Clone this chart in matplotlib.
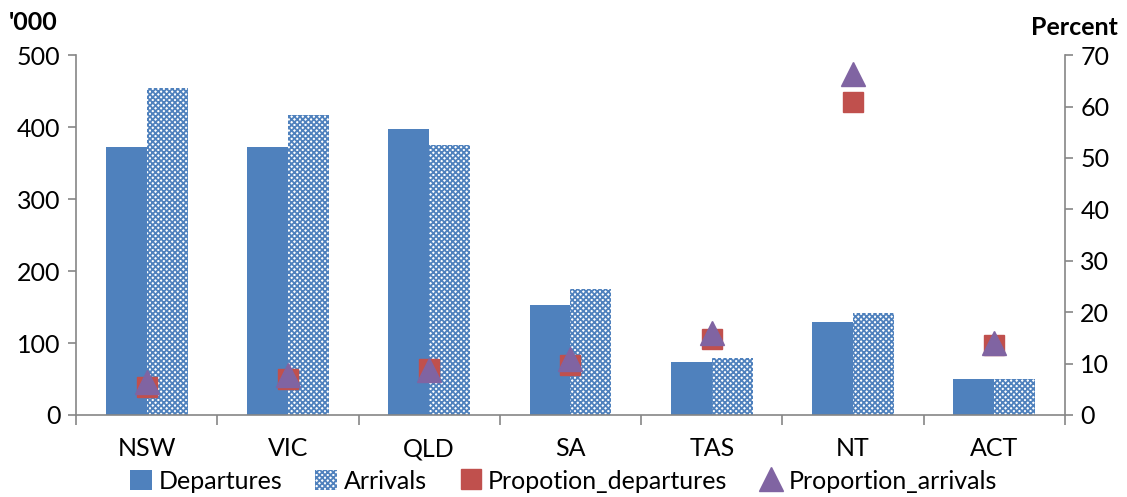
import matplotlib.pyplot as plt
import numpy as np
from matplotlib.lines import Line2D
from matplotlib.patches import Patch

states = ['NSW', 'VIC', 'QLD', 'SA', 'TAS', 'NT', 'ACT']
departures = [373, 373, 397, 153, 74, 129, 50]
arrivals = [454, 417, 375, 175, 79, 142, 50]
prop_departures = [5.5, 7.0, 8.9, 9.7, 14.8, 60.9, 13.7]
prop_arrivals = [6.5, 7.8, 8.7, 10.9, 15.9, 66.4, 14.0]

blue = '#4F81BD'
red = '#C0504D'
purple = '#8064A2'
grey = '#868686'

plt.rcParams['font.family'] = ['Lato', 'DejaVu Sans']
plt.rcParams['hatch.linewidth'] = 1.3

fig = plt.figure(figsize=(11.27, 4.97), dpi=100)
ax = fig.add_axes([0.0674, 0.165, 0.8776, 0.724])
ax2 = ax.twinx()

x = np.arange(len(states))
w = 0.29
ax.bar(x - w / 2, departures, w, color=blue, zorder=2)
ax.bar(x + w / 2, arrivals, w, facecolor='white', edgecolor=blue,
       linewidth=0, hatch='xxxxxx', zorder=2)

ax2.plot(x, prop_departures, 's', color=red, markersize=14, zorder=3)
ax2.plot(x, prop_arrivals, '^', color=purple, markersize=17, zorder=4)

ax.set_xlim(-0.5, len(states) - 0.5)
ax.set_ylim(0, 500)
ax2.set_ylim(0, 70)
ax.set_yticks(range(0, 501, 100))
ax2.set_yticks(range(0, 71, 10))

fs = 18
ax.set_xticks(x)
ax.set_xticklabels(states)
ax.set_xticks(np.arange(-0.5, len(states)), minor=True)
ax.tick_params(axis='x', which='major', length=0, pad=16, labelsize=fs)
ax.tick_params(axis='x', which='minor', length=7, color=grey, width=1.2)
ax.tick_params(axis='y', length=6, color=grey, width=1.2, labelsize=fs, pad=5)
ax2.tick_params(axis='y', length=6, color=grey, width=1.2, labelsize=fs, pad=5)

for a in (ax, ax2):
    a.spines['top'].set_visible(False)
    for s in ('left', 'right', 'bottom'):
        a.spines[s].set_color(grey)
        a.spines[s].set_linewidth(1.2)
ax.spines['right'].set_visible(False)
ax2.spines['left'].set_visible(False)
ax2.spines['bottom'].set_visible(False)

fig.text(0.008, 0.955, "'000", fontsize=fs, fontweight='bold', va='center')
fig.text(0.992, 0.945, 'Percent', fontsize=fs, fontweight='bold',
         va='center', ha='right')

handles = [
    Patch(facecolor=blue, label='Departures'),
    Patch(facecolor='white', edgecolor=blue, linewidth=0, hatch='xxxxxx',
          label='Arrivals'),
    Line2D([], [], marker='s', color=red, linestyle='none', markersize=15,
           label='Propotion_departures'),
    Line2D([], [], marker='^', color=purple, linestyle='none', markersize=17,
           label='Proportion_arrivals'),
]
fig.legend(handles=handles, loc='center', bbox_to_anchor=(0.5, 0.032), ncol=4,
           frameon=False, fontsize=fs, handlelength=0.9, handleheight=0.9,
           handletextpad=0.25, columnspacing=1.3)

fig.savefig('out.png', dpi=100)
